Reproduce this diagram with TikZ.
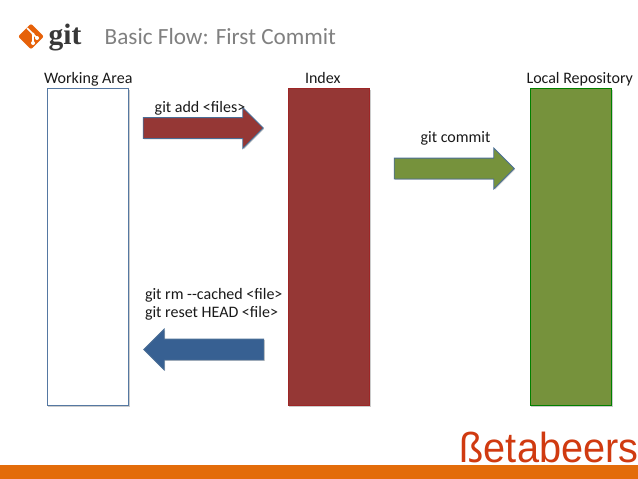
\documentclass[tikz,border=0pt]{standalone}
\usepackage{fontspec}
\setmainfont{Carlito}
\newfontfamily\logofont{Liberation Serif}
\newfontfamily\brandfont{Liberation Sans}
\usepackage{xcolor}
\usepackage{tikz}
\usetikzlibrary{
  positioning,
  shadows,
  shapes.arrows,
  shapes.geometric
}
\definecolor{gitred}{HTML}{953735}
\definecolor{gitgreen}{HTML}{76923C}
\definecolor{gitblue}{HTML}{376092}
\definecolor{arrowline}{HTML}{4A6E96}
\definecolor{brandorange}{HTML}{E36C0A}
\definecolor{brandred}{HTML}{D03A10}

\begin{document}
\begin{tikzpicture}[
  x=1pt, y=-1pt,
  every node/.style={font=\fontsize{16}{18}\selectfont, text=black!90},
  softshadow/.style={drop shadow={shadow xshift=1pt, shadow yshift=-1pt, opacity=0.2, fill=black}},
  panel/.style={draw, line width=0.9pt, minimum width=81.5pt, minimum height=317pt, inner sep=0pt, outer sep=0pt, softshadow},
  areaname/.style={text height=11pt, text depth=3pt, inner sep=0pt},
  flow/.style={single arrow, draw=arrowline, line width=0.8pt, minimum height=120pt, minimum width=40pt,
    single arrow head extend=10pt, single arrow head indent=0pt, inner xsep=0pt, inner ysep=10pt, outer sep=0pt, softshadow},
  title/.style={font=\fontsize{23.2}{26}\selectfont, text=black!50}
]
  \useasboundingbox (0,0) rectangle (638,479);

  % three areas
  \node[panel, draw=gitblue!85, fill=white, anchor=north west] (work) at (47,88.5) {};
  \node[panel, draw=red!55!black!85, fill=gitred, right=159.5pt of work] (index) {};
  \node[panel, draw=green!50!black, fill=gitgreen, right=160.5pt of index] (repo) {};

  \node[areaname, above=2pt of work, xshift=0.5pt] (worklabel) {Working Area};
  \node[areaname, above=2pt of index, xshift=-6pt] (indexlabel) {Index};
  \node[areaname, above=2pt of repo, xshift=9pt] (repolabel) {Local Repository};

  % arrows and their commands
  \node[flow, fill=gitred] (add) at (198,128) {};
  \node[flow, fill=gitgreen] (commit) at (449,168.5) {};
  \node[flow, fill=gitblue, shape border rotate=180] (reset) at (209,349.5) {};

  \node (addlabel) at (200,108) {git add <files>};
  \node (commitlabel) at (455.5,138.5) {git commit};
  \node[align=left, anchor=west] (resetlabel) at (141.5,304.5) {git rm -{}-cached <file>\\git reset HEAD <file>};

  % header
  \node[diamond, fill=brandorange!90!red, rounded corners=2pt, minimum size=26pt, inner sep=0pt] (logo) at (31,36.5) {};
  \draw[white, line width=1.6pt] (27,28) -- (33,34) -- (33,43);
  \draw[white, line width=1.6pt] (33,34) -- (37,38);
  \fill[white] (33,43) circle (2pt) (37,38) circle (2pt) (33,34) circle (1.5pt);
  \node[font=\logofont\bfseries\fontsize{29.5}{31}\selectfont, text=black!78, anchor=base west, inner sep=0pt] (gitname) at (48.5,44) {git};
  \node[title, anchor=base west, inner sep=0pt] (slidetitle) at (104.5,44) {Basic Flow: First Commit};

  % footer
  \fill[brandorange] (0,465) rectangle (638,479);
  \node[font=\brandfont\fontsize{42}{42}\selectfont, text=brandred, inner sep=0pt, xscale=0.945] (brand) at (549,447.5) {ßetabeers};
\end{tikzpicture}
\end{document}
